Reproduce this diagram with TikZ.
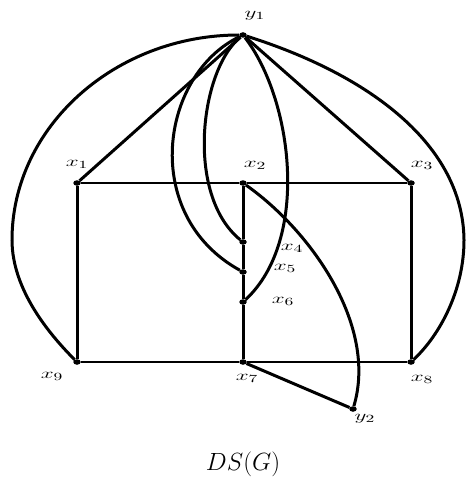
\documentclass[tikz,border=0pt]{standalone}
\usepackage{amsmath}
\usetikzlibrary{arrows.meta,calc,shapes.geometric}
\newcommand{\vlab}[1]{\scalebox{1.6}[1]{$#1$}}

\begin{document}
\begin{tikzpicture}[x=1pt,y=-1pt,
  vtx/.style={ellipse,fill=black,inner sep=0pt,minimum width=7.5pt,minimum height=5.5pt},
  lbl/.style={font=\fontsize{15}{17}\selectfont,inner sep=1pt},
  edge/.style={line width=3pt},
  rim/.style={line width=1.8pt}]
 \useasboundingbox (0,0) rectangle (465,481);
 % vertices
 \node[vtx] (y1) at (243,35) {};
 \node[vtx] (x1) at (77,183) {};
 \node[vtx] (x2) at (243,183) {};
 \node[vtx] (x3) at (411,183) {};
 \node[vtx] (x4) at (243,242) {};
 \node[vtx] (x5) at (243,272) {};
 \node[vtx] (x6) at (243,302) {};
 \node[vtx] (x9) at (77,362) {};
 \node[vtx] (x7) at (243,362) {};
 \node[vtx] (x8) at (411,362) {};
 \node[vtx] (y2) at (353,409) {};
 \coordinate (wl) at (12,240);
 \coordinate (wr) at (464,240);
 % labels
 \node[lbl] (ly1) at (255,16) {\vlab{y_1}};
 \node[lbl] (lx1) at (77,164) {\vlab{x_1}};
 \node[lbl] (lx2) at (255,165) {\vlab{x_2}};
 \node[lbl] (lx3) at (422,165) {\vlab{x_3}};
 \node[lbl] (lx4) at (292,248) {\vlab{x_4}};
 \node[lbl] (lx5) at (285,268) {\vlab{x_5}};
 \node[lbl] (lx6) at (283,301) {\vlab{x_6}};
 \node[lbl] (lx9) at (52,376) {\vlab{x_9}};
 \node[lbl] (lx7) at (247,378) {\vlab{x_7}};
 \node[lbl] (lx8) at (422,379) {\vlab{x_8}};
 \node[lbl] (ly2) at (365,419) {\vlab{y_2}};
 \node[font=\fontsize{31}{34}\selectfont] (cap) at (243,464) {$DS(G)$};
 % rectangle
 \draw[rim] (x1) -- (x2) -- (x3);
 \draw[rim] (x9) -- (x7) -- (x8);
 \draw[edge] (x1) -- (x9);
 \draw[edge] (x3) -- (x8);
 \draw[edge] (x2) -- (x4) -- (x5) -- (x6) -- (x7);
 % edges from y1
 \draw[edge] (y1) -- (x1);
 \draw[edge] (y1) -- (x3);
 \draw[edge] (y1) .. controls (115,35) and (12,127) .. (wl)
                  .. controls (12,290) and (50,335) .. (x9);
 \draw[edge] (y1) .. controls (370,75) and (463,145) .. (wr)
                  .. controls (464,290) and (440,335) .. (x8);
 \draw[edge] (y1) .. controls (160,75) and (140,215) .. (x5);
 \draw[edge] (y1) .. controls (200,70) and (185,195) .. (x4);
 \draw[edge] (y1) .. controls (293,100) and (310,240) .. (x6);
 % edges to y2
 \draw[edge] (x2) .. controls (310,230) and (378,325) .. (y2);
 \draw[edge] (x7) -- (y2);
\end{tikzpicture}
\end{document}
